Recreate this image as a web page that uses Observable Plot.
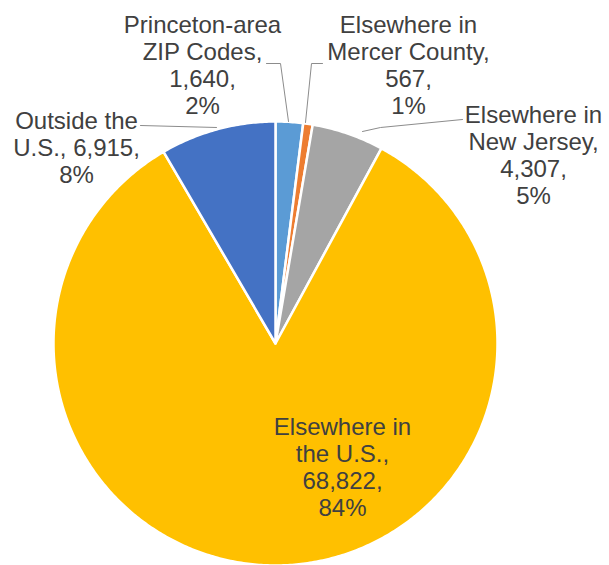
<!DOCTYPE html>
<html>
<head>
<meta charset="utf-8">
<script src="https://cdn.jsdelivr.net/npm/d3@7"></script>
<script src="https://cdn.jsdelivr.net/npm/@observablehq/plot@0.6"></script>
<style>
  html, body { margin: 0; padding: 0; background: #fff; }
  #chart svg { display: block; }
</style>
</head>
<body>
<div id="chart"></div>
<script>
// Data
const categories = [
  "Princeton-area ZIP Codes",
  "Elsewhere in Mercer County",
  "Elsewhere in New Jersey",
  "Elsewhere in the U.S.",
  "Outside the U.S."
];
const values = [1640, 567, 4307, 68822, 6915];
const percents = ["2%", "1%", "5%", "84%", "8%"];
const labelLines = [
  ["Princeton-area", "ZIP Codes,"],
  ["Elsewhere in", "Mercer County,"],
  ["Elsewhere in", "New Jersey,"],
  ["Elsewhere in", "the U.S.,"],
  ["Outside the", "U.S., 6,915,"]
];
const colors = ["#5B9BD5", "#ED7D31", "#A5A5A5", "#FFC000", "#4472C4"];

// Layout (pixel positions in the 609x565 frame)
const W = 609, H = 565;
const cx = 275, cy = 343, R = 222;
const labelPos = [
  {px: 202, py: 64},
  {px: 408, py: 64},
  {px: 533, py: 154},
  {px: 342, py: 466},
  {px: 76,  py: 147}
];
const leaders = [
  [[266, 63], [280, 63], [288, 121]],
  [[322, 63], [311, 63], [305, 122]],
  [[462, 119], [380, 127], [362, 131]],
  null,
  [[140, 125], [216, 127]]
];

const toX = px => (px - cx) / R;
const toY = py => (cy - py) / R;

const fmt = d3.format(",");
const arcs = d3.pie().sort(null).value(d => d.value)(
  categories.map((c, i) => ({name: c, value: values[i]}))
);

// Build slice polygons in unit (data) space
const slicePts = [];
arcs.forEach(a => {
  const n = Math.max(2, Math.ceil((a.endAngle - a.startAngle) / 0.01));
  slicePts.push({name: a.data.name, x: 0, y: 0});
  for (let k = 0; k <= n; k++) {
    const t = a.startAngle + (a.endAngle - a.startAngle) * k / n;
    slicePts.push({name: a.data.name, x: Math.sin(t), y: Math.cos(t)});
  }
  slicePts.push({name: a.data.name, x: 0, y: 0});
});

const labels = categories.map((c, i) => ({
  name: c,
  text: [...labelLines[i], ...(i === 4 ? [] : [fmt(values[i]) + ","]), percents[i]].join("\n"),
  x: toX(labelPos[i].px),
  y: toY(labelPos[i].py)
}));

const leaderPts = [];
leaders.forEach((l, i) => {
  if (!l) return;
  l.forEach(([px, py]) => leaderPts.push({name: categories[i], x: toX(px), y: toY(py)}));
});

const chart = Plot.plot({
  width: W,
  height: H,
  marginLeft: cx - R,
  marginRight: W - (cx + R),
  marginTop: cy - R,
  marginBottom: H - (cy + R),
  x: {domain: [-1, 1], axis: null},
  y: {domain: [-1, 1], axis: null},
  color: {domain: categories, range: colors},
  style: {fontFamily: "Liberation Sans, Arial, sans-serif", background: "#fff", overflow: "visible"},
  marks: [
    Plot.line(slicePts, {x: "x", y: "y", z: "name", fill: "name", stroke: "#fff", strokeWidth: 2.5, curve: "linear-closed"}),
    Plot.line(leaderPts, {x: "x", y: "y", z: "name", stroke: "#8c8c8c", strokeWidth: 1}),
    Plot.text(labels, {
      x: "x", y: "y", text: "text",
      fill: "#404040", fontSize: 24, lineHeight: 1.125,
      textAnchor: "middle", lineAnchor: "middle"
    })
  ]
});
document.getElementById("chart").appendChild(chart);
</script>
</body>
</html>
